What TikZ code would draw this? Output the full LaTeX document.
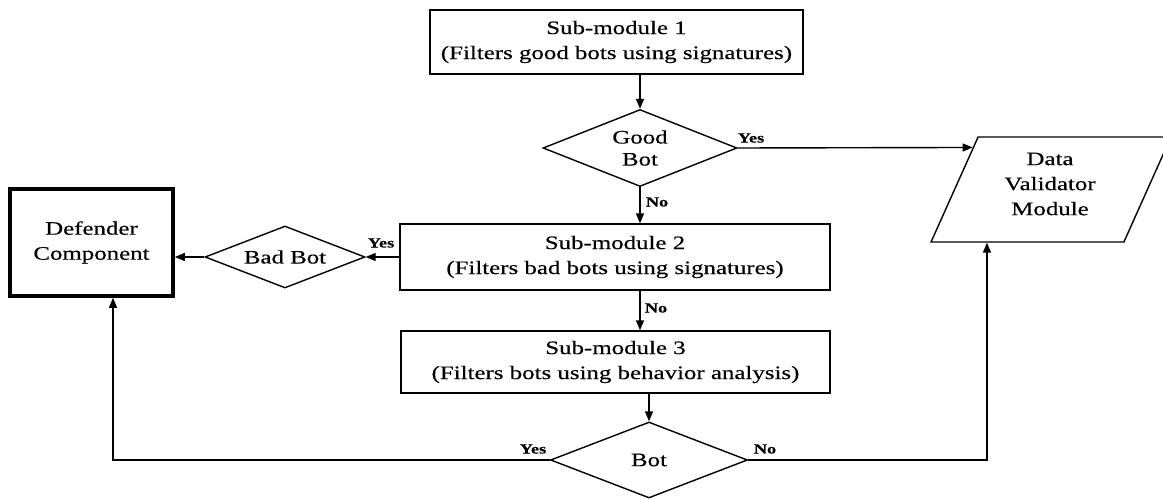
\documentclass[tikz,border=0pt]{standalone}
\usepackage{fontspec}
\setmainfont{Liberation Serif}[FakeStretch=1.31,FakeBold=0.4]
\usetikzlibrary{shapes.geometric,arrows.meta,calc}
\begin{document}
\begin{tikzpicture}[x=1pt,y=-1pt,
  txt/.style={font=\fontsize{19}{25}\selectfont, align=center},
  lbl/.style={font=\fontsize{14}{15}\selectfont\bfseries, inner sep=0},
  procbox/.style={draw, line width=1.4pt, txt, inner sep=0},
  decision/.style={draw, diamond, aspect=2.5, line width=1.4pt, txt, inner sep=0},
  arr/.style={line width=1.4pt, -{Triangle[length=10pt,width=8pt]}},
  ln/.style={line width=1.4pt}]
\useasboundingbox (0,0) rectangle (1163,500);

\node[procbox, minimum width=373, minimum height=64] (s1) at (616.5,42) {Sub-module 1\\(Filters good bots using signatures)};
\node[decision, minimum width=194, minimum height=77, font=\fontsize{19}{22}\selectfont] (gb) at (640,148) {Good\\Bot};
\node[procbox, minimum width=430, minimum height=66] (s2) at (615,257) {Sub-module 2\\(Filters bad bots using signatures)};
\node[procbox, minimum width=429, minimum height=62] (s3) at (615.5,362) {Sub-module 3\\(Filters bots using behavior analysis)};
\node[decision, minimum width=197, minimum height=76] (bot) at (649,460) {Bot};
\node[decision, minimum width=160, minimum height=62] (bb) at (285,257) {Bad Bot};
\node[draw, line width=3.6pt, minimum width=163, minimum height=107, txt, inner sep=0] (def) at (91.5,242.5) {Defender\\Component};
\node[draw, trapezium, trapezium left angle=65, trapezium right angle=115, trapezium stretches=true,
      minimum width=240, minimum height=105, line width=1.4pt, txt, inner sep=0] (dv) at (1051,189.5) {\phantom{X}};
\node[txt, inner sep=0] (dvtext) at (1050,184) {Data\\Validator\\Module};

\coordinate (dvin) at ($(dv.top left corner)!0.105!(dv.bottom left corner)$);
\coordinate (dvbot) at ([xshift=57]dv.bottom left corner);
\coordinate (defbot) at ([xshift=21.5]def.south);

\draw[arr] (s1.south -| gb.north) -- (gb.north);
\draw[arr] (gb.east) -- (dvin);
\draw[arr] (gb.south) -- (gb.south |- s2.north);
\draw[arr] (s2.west) -- (bb.east);
\draw[arr] (bb.west) -- (def.east |- bb.west);
\draw[arr] (s2.south -| gb.south) -- (s3.north -| gb.south);
\draw[arr] (s3.south -| bot.north) -- (bot.north);
\draw[arr] (bot.west) -| (defbot);
\draw[arr] (bot.east) -| (dvbot);

\node[lbl] (l1) at (751,138) {Yes};
\node[lbl] (l2) at (657,202) {No};
\node[lbl] (l3) at (381,243) {Yes};
\node[lbl] (l4) at (656,308) {No};
\node[lbl] (l5) at (533,449) {Yes};
\node[lbl] (l6) at (765,449) {No};
\end{tikzpicture}
\end{document}
